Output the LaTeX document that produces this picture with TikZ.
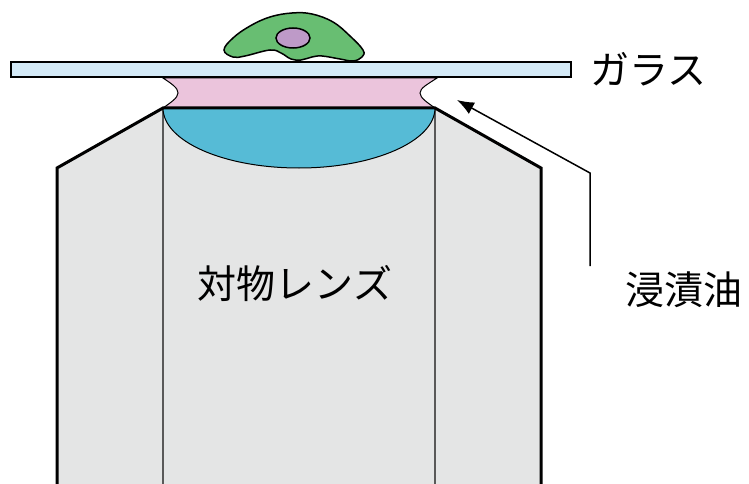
\documentclass[tikz,border=0pt]{standalone}
\usepackage{fontspec}
\newfontfamily\jpfont{Noto Sans CJK JP}
\usetikzlibrary{arrows.meta,positioning}
\definecolor{glassblue}{HTML}{D4EAF7}
\definecolor{oilpink}{HTML}{EBC4DC}
\definecolor{lensblue}{HTML}{56BBD6}
\definecolor{bodygray}{HTML}{E4E5E5}
\definecolor{cellgreen}{HTML}{68BE72}
\definecolor{nucleus}{HTML}{BE9AC8}

\begin{document}
\begin{tikzpicture}[x=1pt,y=-1pt, body/.style = {fill=bodygray}, rim/.style = {black,line width=3pt,miter limit=20},
		barrel/.style = {black!65,line width=1.2pt}, lens/.style = {fill=lensblue,draw=black,line width=1pt},
		oil/.style = {fill=oilpink,draw=black,line width=1pt}, glass/.style = {fill=glassblue,draw=black,line width=1.8pt},
		cell/.style = {fill=cellgreen,draw=black,line width=1.5pt}, label/.style = {font=\jpfont\fontsize{39}{39}\selectfont,inner sep=0pt} ]
    \tikzset{pointer/.style={black,line width=1.5pt,-{Latex[length=17pt,width=13pt]}}}
    \useasboundingbox (0,0) rectangle (749,484);
    \fill [body] (57,484) -- (57,168) -- (163,108) -- (435,108) -- (541,168) -- (541,484) -- cycle;
    \draw [barrel] (163,108) -- (163,484) (435,108) -- (435,484);
    \draw [lens] (163,108) .. controls (163,141) and (223,168) .. (299,168) .. controls (374,168) and (435,141) .. (435,108) -- cycle;
    \draw [oil] (163,78) .. controls (172,84) and (178,88) .. (178,93) .. controls (178,98) and (170,103) .. (163,108)
      -- (435,108) .. controls (428,103) and (420,98) .. (420,93) .. controls (420,88) and (428,84) .. (437,78) -- cycle;
    \draw [rim] (57,484) -- (57,168) -- (163,108) -- (435,108) -- (541,168) -- (541,484);
    \draw [glass] (11,62) rectangle (571,77);
    \draw [cell] plot [smooth cycle, tension=0.65] coordinates {(224,50) (233,57) (245,56) (270,50) (281,53) (291,59) (301,60)
      (312,57) (322,56) (340,59) (353,61) (362,57) (363,50) (350,36) (333,22) (312,14) (292,13) (270,17) (250,26) (233,38)};
    \draw [cell,fill=nucleus] (293,38) ellipse [x radius=17, y radius=10];
    \node [label,anchor=west] (glasstext) at (590,69) {ガラス};
    \node [label] (lenstext) at (295,284) {対物レンズ};
    \node [label] (oiltext) at (684,290) {浸漬油};
    \coordinate (foot) at (590,266);
    \coordinate (bend) at (590,173);
    \coordinate (tip) at (457,100);
    \draw [pointer] (foot) -- (bend) -- (tip);
  \end{tikzpicture}
\end{document}
